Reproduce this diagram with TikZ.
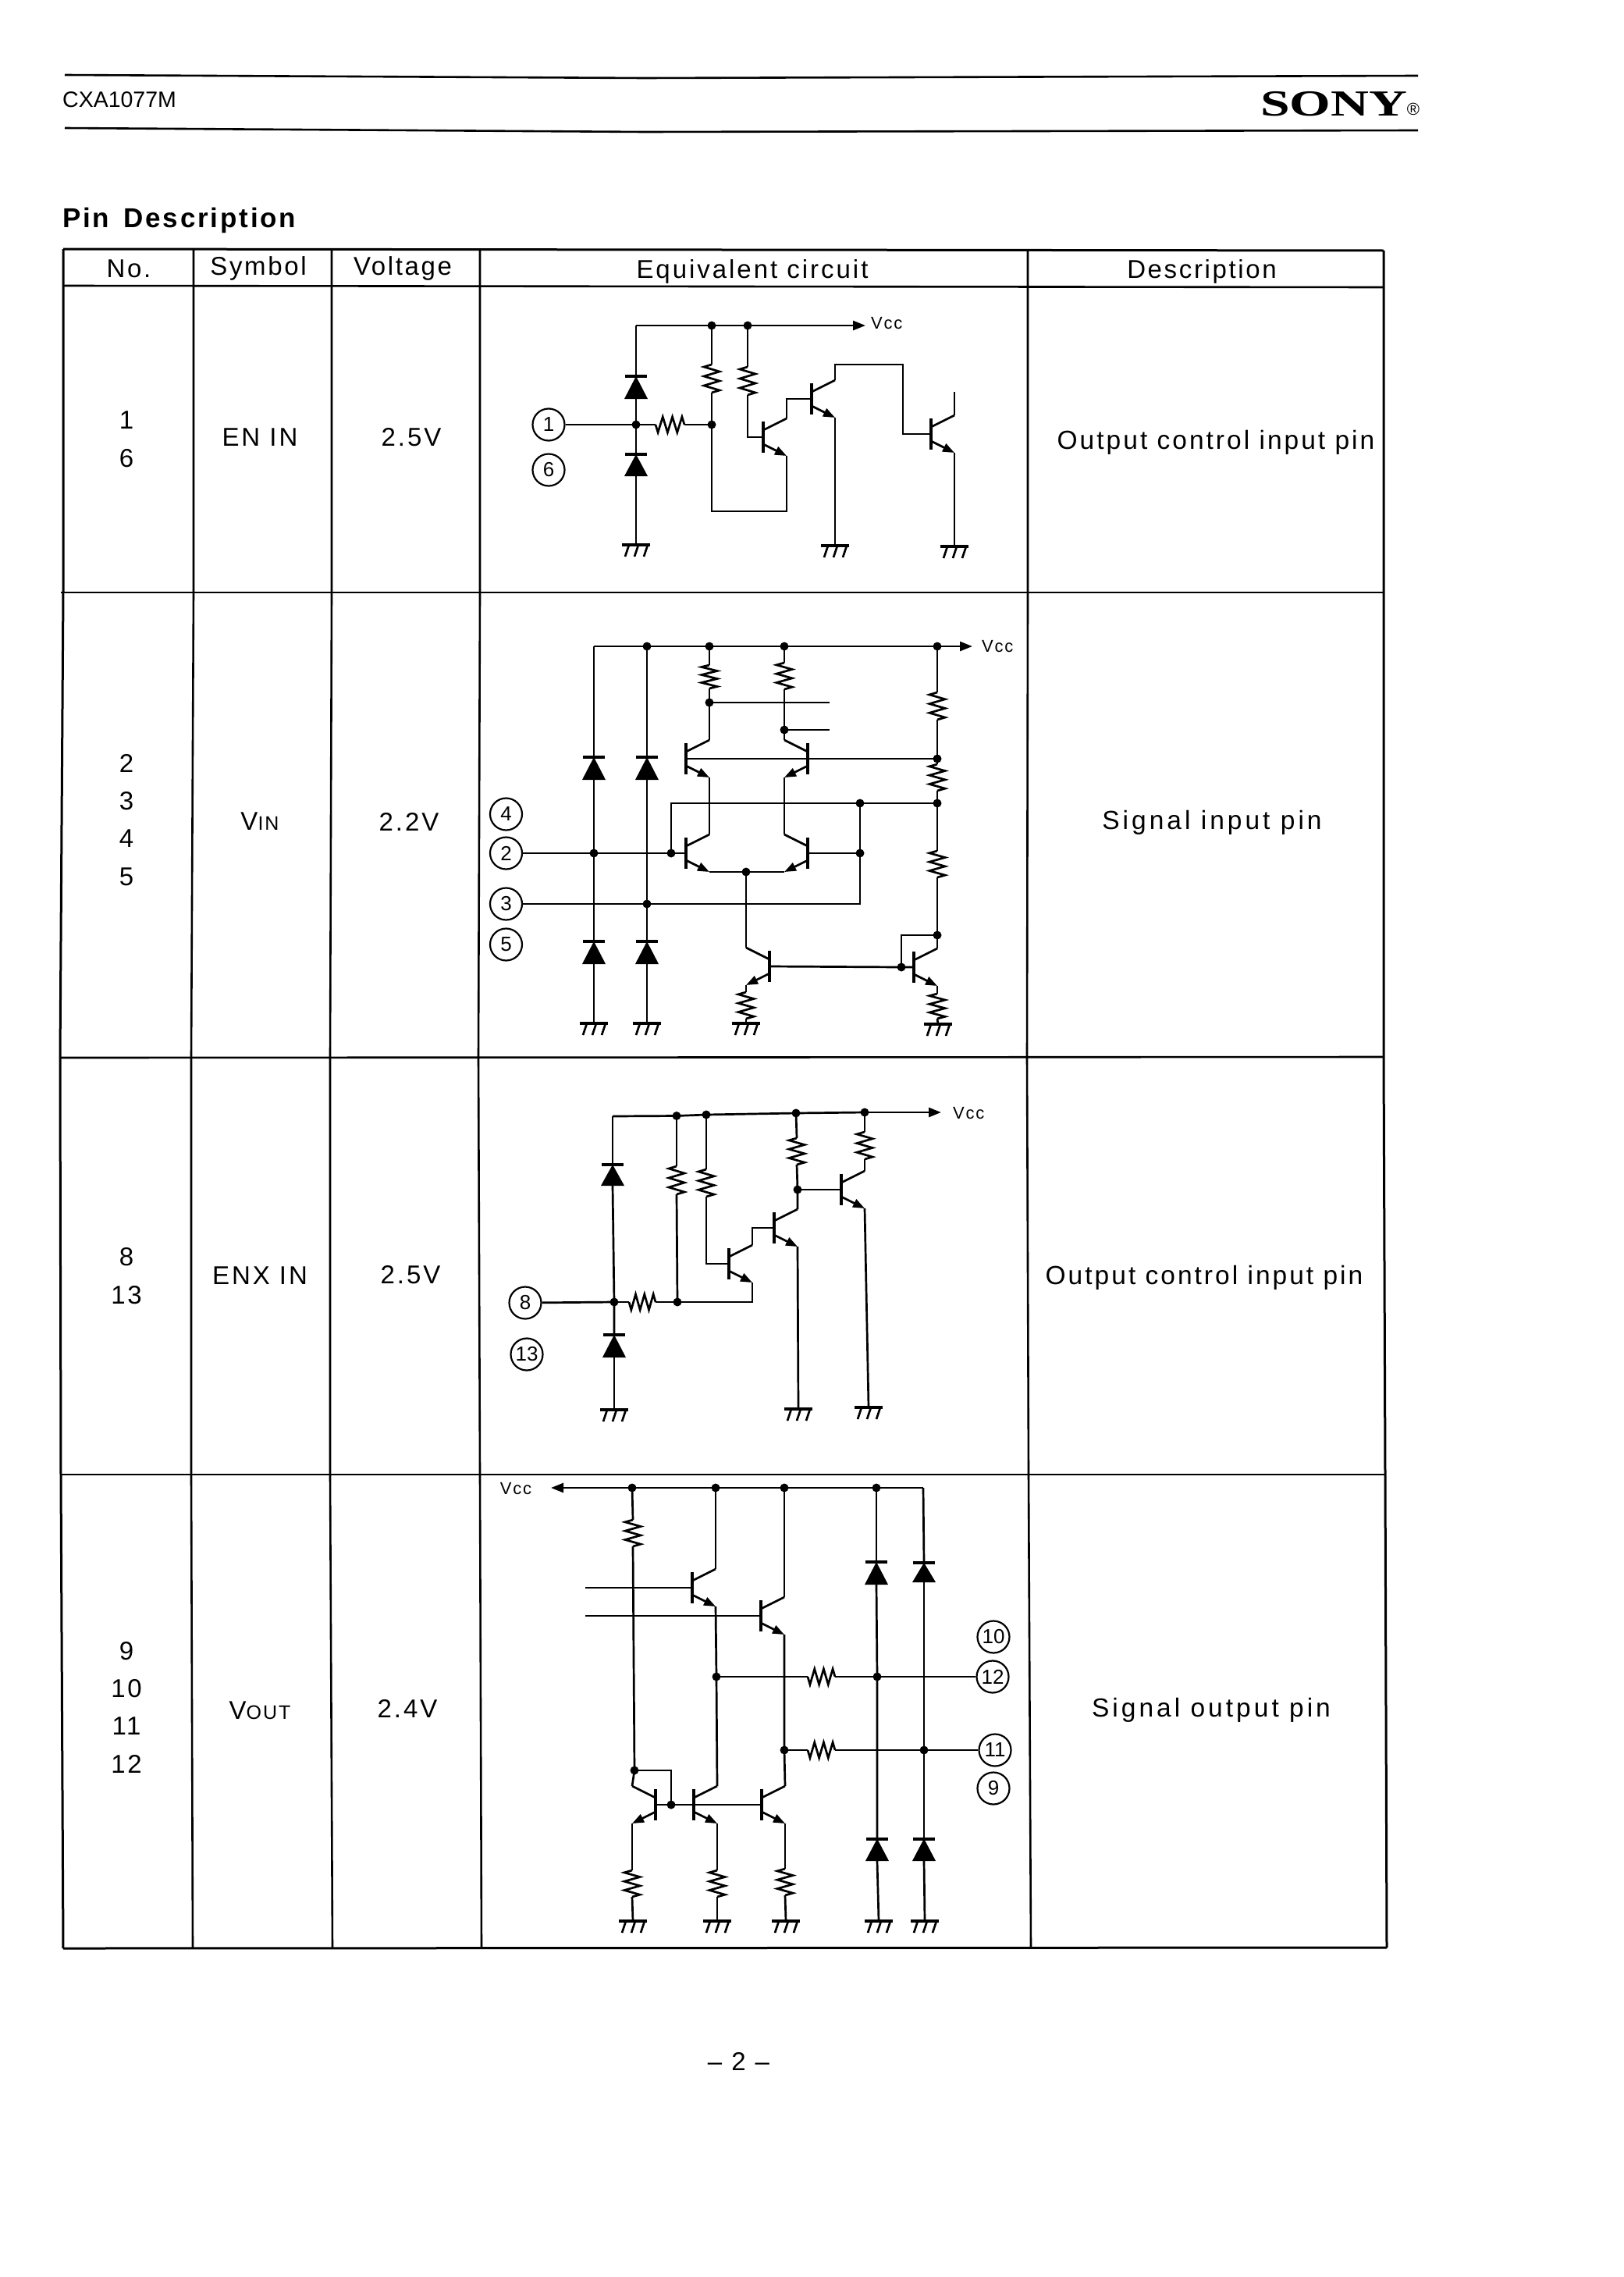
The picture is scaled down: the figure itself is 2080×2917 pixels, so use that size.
\documentclass[tikz,border=0pt]{standalone}
\usepackage{fontspec}
\setmainfont{Liberation Sans}[LetterSpace=8]
\newfontfamily\plainsans{Liberation Sans}
\newfontfamily\sonyfont{Liberation Serif}
\usetikzlibrary{arrows.meta}
\tikzset{
  wire/.style={line width=2.7pt,line join=miter},
  rule/.style={line width=2.6pt},
  vcc/.style={-{Triangle[length=16pt,width=12pt]}},
  txt/.style={anchor=base,inner sep=0pt,font=\fontsize{33}{36}\selectfont},
  desc/.style={anchor=base,inner sep=0pt,font=\fontsize{33.5}{36}\selectfont},
  vcclab/.style={inner sep=0pt,font=\fontsize{22}{24}\selectfont},
  pinc/.style={circle,draw,line width=2.2pt,minimum size=41pt,inner sep=0pt,font=\plainsans\fontsize{26}{28}\selectfont},
}
\newcommand{\Jn}[3]{\coordinate (#1) at (#2,#3);\fill (#1) circle (5.5pt);}
\newcommand{\Vres}[4]{%
  \pgfmathsetmacro\hh{(#4-#3)/6}%
  \coordinate (#1-a) at (#2,#3);\coordinate (#1-b) at (#2,#4);
  \draw[wire] (#1-a) -- ++(-10,0.5*\hh) -- ++(20,\hh) -- ++(-20,\hh) -- ++(20,\hh) -- ++(-20,\hh) -- ++(20,\hh) -- (#1-b);}
\newcommand{\Hres}[4]{%
  \pgfmathsetmacro\hh{(#3-#2)/6}%
  \coordinate (#1-a) at (#2,#4);\coordinate (#1-b) at (#3,#4);
  \draw[wire] (#1-a) -- ++(0.5*\hh,10) -- ++(\hh,-20) -- ++(\hh,20) -- ++(\hh,-20) -- ++(\hh,20) -- ++(\hh,-20) -- (#1-b);}
\newcommand{\Dio}[4]{%
  \coordinate (#1-a) at (#2,#3);\coordinate (#1-b) at (#2,#4);
  \draw[line width=4pt] ({#2-14},#3) -- ({#2+14},#3);
  \fill ({#2-15},#4) -- ({#2+15},#4) -- (#2,#3) -- cycle;}
\newcommand{\Gnd}[3]{%
  \coordinate (#1) at (#2,#3);
  \draw[line width=4.5pt] ({#2-18},#3) -- ({#2+18},#3);
  \draw[wire] ({#2-9},#3) -- ({#2-14},{#3+15}) ({#2+3},#3) -- ({#2-2},{#3+15}) ({#2+15},#3) -- ({#2+10},{#3+15});}
\newcommand{\Pin}[4]{\node[pinc] (#1) at (#2,#3) {#4};}
\newcommand{\Npn}[4]{%
  \coordinate (#1-b) at (#2,#3);
  \coordinate (#1-c) at ({#2+#4*30},{#3-24});
  \coordinate (#1-e) at ({#2+#4*30},{#3+24});
  \draw[line width=4.5pt] (#2,{#3-20}) -- (#2,{#3+20});
  \draw[wire] (#2,{#3-9}) -- (#1-c);
  \draw[wire,-{Triangle[length=15pt,width=11pt]}] (#2,{#3+9}) -- (#1-e);}
\newcommand{\W}[1]{\draw[wire] #1;}
\begin{document}
\begin{tikzpicture}[x=1pt,y=-1pt]
\useasboundingbox (0,0) rectangle (2080,2917);
% ---- page header
\coordinate (h1) at (83,96); \coordinate (h1m) at (825,100); \coordinate (h2) at (1817,97);
\coordinate (h3) at (83,164); \coordinate (h3m) at (825,169); \coordinate (h4) at (1817,167);
\draw[rule] (h1) -- (h1m) -- (h2);
\draw[rule] (h3) -- (h3m) -- (h4);
\node[anchor=base west,inner sep=0pt,font=\plainsans\fontsize{28.5}{30}\selectfont] (model) at (80,138) {CXA1077M};
\node[anchor=base,inner sep=0pt] (sony) at (1709,148) {\sonyfont\bfseries\fontsize{47}{50}\selectfont\scalebox{1.44}[1]{SONY}};
\node[anchor=base,inner sep=0pt,font=\plainsans\fontsize{22}{24}\selectfont] (reg) at (1811,147) {®};
\node[anchor=base west,inner sep=0pt,font=\bfseries\fontsize{35}{38}\selectfont] (title) at (80,291) {Pin \,Description};
% ---- table frame
\draw[line width=3pt] (81,319) -- (1773,321);
\draw[rule] (81,366) -- (1773,368);
\draw[rule] (78,759) -- (1773,759);
\draw[rule] (78,1355) -- (1773,1354);
\draw[rule] (78,1889) -- (1775,1889);
\draw[line width=3pt] (81,2496) -- (1777,2495);
\draw[line width=3pt] (81,319) -- (81,759) -- (77,1355) -- (78,1889) -- (81,2496);
\draw[rule] (248,319) -- (248,759) -- (245,1355) -- (245,1889) -- (247,2496);
\draw[rule] (425,319) -- (425,759) -- (423,1355) -- (423,1889) -- (426,2496);
\draw[rule] (615,319) -- (615,759) -- (613,1355) -- (615,1889) -- (617,2496);
\draw[rule] (1317,320) -- (1317,759) -- (1316,1355) -- (1318,1889) -- (1321,2496);
\draw[line width=3pt] (1773,321) -- (1773,1354) -- (1775,1889) -- (1777,2495);
% ---- table text
\node[txt] (hno) at (165,355) {No.};
\node[txt] (hsym) at (331,352) {Symbol};
\node[txt] (hvol) at (516,352) {Voltage};
\node[txt] (heq) at (964,356) {\addfontfeature{LetterSpace=9}Equivalent circuit};
\node[txt] (hdes) at (1540,356) {Description};
\node[txt] (n1) at (162,549) {1};
\node[txt] (n6) at (162,598) {6};
\node[txt] (s1) at (333,571) {\addfontfeature{LetterSpace=9}EN IN};
\node[txt] (v1) at (527,571) {\addfontfeature{LetterSpace=9}2.5V};
\node[desc] (d1) at (1558,575) {\addfontfeature{LetterSpace=9}Output control input pin};
\node[txt] (n2) at (162,989) {2};
\node[txt] (n3) at (162,1037) {3};
\node[txt] (n4) at (162,1085) {4};
\node[txt] (n5) at (162,1134) {5};
\node[txt] (s2) at (333,1063) {V{\fontsize{25}{26}\selectfont IN}};
\node[txt] (v2) at (524,1064) {\addfontfeature{LetterSpace=9}2.2V};
\node[desc] (d2) at (1553,1062) {\addfontfeature{LetterSpace=12}Signal input pin};
\node[txt] (n8) at (162,1621) {8};
\node[txt] (n13) at (162,1670) {13};
\node[txt] (s3) at (333,1645) {\addfontfeature{LetterSpace=9}ENX IN};
\node[txt] (v3) at (526,1644) {\addfontfeature{LetterSpace=9}2.5V};
\node[desc] (d3) at (1543,1645) {\addfontfeature{LetterSpace=9}Output control input pin};
\node[txt] (n9) at (162,2126) {9};
\node[txt] (n10) at (162,2174) {10};
\node[txt] (n11) at (162,2222) {11};
\node[txt] (n12) at (162,2271) {12};
\node[txt] (s4) at (333,2202) {V{\fontsize{25}{26}\selectfont OUT}};
\node[txt] (v4) at (522,2200) {\addfontfeature{LetterSpace=9}2.4V};
\node[desc] (d4) at (1552,2199) {\addfontfeature{LetterSpace=12}Signal output pin};
\node[txt,font=\plainsans\fontsize{33}{36}\selectfont] (pg) at (946.5,2652) {–\hspace{12pt}2\hspace{12pt}–};
% ---- circuit 1
\coordinate (a0) at (815,417); \coordinate (a5) at (1109,417);
\Jn{a1}{912}{417} \Jn{a2}{958}{417} \Jn{a3}{815}{544} \Jn{a4}{912}{544}
\W{(a0) -- (a1) -- (a2)}
\draw[wire,vcc] (a2) -- (a5);
\node[vcclab,anchor=west] (avcc) at (1116,414) {Vcc};
\Dio{ad1}{815}{482}{511} \Dio{ad2}{815}{582}{610} \Gnd{ag1}{815}{698}
\W{(a0) -- (ad1-a)} \W{(ad1-b) -- (a3) -- (ad2-a)} \W{(ad2-b) -- (ag1)}
\Pin{p1}{703}{544}{1} \Pin{p6}{703}{602}{6}
\W{(p1) -- (a3)}
\Hres{ar0}{840}{877}{544}
\W{(a3) -- (ar0-a)} \W{(ar0-b) -- (a4)}
\Vres{ar1}{912}{467}{503} \Vres{ar2}{958}{470}{506}
\W{(a1) -- (ar1-a)} \W{(ar1-b) -- (a4)} \W{(a2) -- (ar2-a)}
\Npn{at1}{978}{560}{1} \Npn{at2}{1040}{511}{1} \Npn{at3}{1193}{556}{1}
\coordinate (ac) at (912,655);
\W{(a4) -- (ac) -| (at1-e)}
\W{(ar2-b) |- (at1-b)}
\W{(at1-c) |- (at2-b)}
\coordinate (ad) at (1157,467);
\W{(at2-c) |- (ad) |- (at3-b)}
\Gnd{ag2}{1070}{699} \Gnd{ag3}{1223}{700}
\W{(at2-e) -- (ag2)} \W{(at3-e) -- (ag3)}
\coordinate (ae) at (1223,502);
\W{(at3-c) -- (ae)}
% ---- circuit 2
\coordinate (b0) at (761,828); \coordinate (b5) at (1246,828);
\Jn{b1}{829}{828} \Jn{b2}{909}{828} \Jn{b3}{1005}{828} \Jn{b4}{1201}{828}
\W{(b0) -- (b1) -- (b2) -- (b3) -- (b4)}
\draw[wire,vcc] (b4) -- (b5);
\node[vcclab,anchor=west] (bvcc) at (1258,828) {Vcc};
\Dio{bd1}{761}{970}{999} \Dio{bd2}{829}{970}{999} \Dio{bd3}{761}{1206}{1235} \Dio{bd4}{829}{1206}{1235}
\Jn{b6}{761}{1093} \Jn{b7}{829}{1158} \Jn{b8}{860}{1093}
\Gnd{bg1}{761}{1311} \Gnd{bg2}{829}{1311}
\Pin{p4}{648.5}{1043}{4} \Pin{p2}{648.5}{1093}{2} \Pin{p3}{648.5}{1158}{3} \Pin{p5}{648.5}{1210}{5}
\W{(b0) -- (bd1-a)} \W{(bd1-b) -- (b6) -- (bd3-a)} \W{(bd3-b) -- (bg1)}
\W{(b1) -- (bd2-a)} \W{(bd2-b) -- (b7) -- (bd4-a)} \W{(bd4-b) -- (bg2)}
\Npn{bt1}{879}{972}{1} \Npn{bt2}{1035}{972}{-1} \Npn{bt3}{879}{1093}{1} \Npn{bt4}{1035}{1093}{-1}
\Npn{bt5}{986}{1238}{-1} \Npn{bt6}{1171}{1239}{1}
\W{(p2) -- (b6) -- (b8) -- (bt3-b)}
\Vres{br1}{909}{852}{882} \Vres{br2}{1005}{849}{883}
\Jn{b9}{909}{900} \Jn{b11}{1005}{935}
\coordinate (b10) at (1063,900); \coordinate (b12) at (1063,935);
\W{(b2) -- (br1-a)} \W{(br1-b) -- (b9) -- (bt1-c)} \W{(b9) -- (b10)} \W{(bt1-e) -- (bt3-c)}
\W{(b3) -- (br2-a)} \W{(br2-b) -- (b11) -- (bt2-c)} \W{(b11) -- (b12)} \W{(bt2-e) -- (bt4-c)}
\Jn{b14}{956}{1117}
\W{(bt3-e) -- (b14) -- (bt4-e)}
\Jn{b13}{1201}{972} \Jn{b15}{1201}{1029} \Jn{b16}{1201}{1198} \Jn{b17}{1102}{1029} \Jn{b19}{1102}{1093}
\Vres{br3}{1201}{887}{922} \Vres{br4}{1201}{979}{1013} \Vres{br5}{1201}{1090}{1124}
\W{(bt1-b) -- (b13)}
\W{(b4) -- (br3-a)} \W{(br3-b) -- (b13) -- (br4-a)} \W{(br4-b) -- (b15) -- (br5-a)} \W{(br5-b) -- (b16) -- (bt6-c)}
\coordinate (b18) at (860,1029); \coordinate (b20) at (1102,1158);
\W{(b8) -- (b18) -- (b17) -- (b15)}
\W{(b17) -- (b19) -- (b20) -- (b7) -- (p3)}
\W{(bt4-b) -- (b19)}
\W{(b14) -- (bt5-c)}
\Jn{b21}{1155}{1239}
\W{(bt5-b) -- (b21) -- (bt6-b)}
\W{(b21) |- (b16)}
\Vres{br6}{956}{1271}{1305} \Vres{br7}{1201}{1273}{1305}
\Gnd{bg3}{956}{1311} \Gnd{bg4}{1202}{1312}
\W{(bt5-e) -- (br6-a)} \W{(br6-b) -- (bg3)} \W{(bt6-e) -- (br7-a)} \W{(br7-b) -- (bg4)}
% ---- circuit 3
\coordinate (c0) at (785,1430); \coordinate (c5) at (1206,1425);
\Jn{c1}{867}{1429.5} \Jn{c2}{905}{1428} \Jn{c3}{1020}{1426} \Jn{c4}{1108}{1425}
\W{(c0) -- (c1) -- (c2) -- (c3) -- (c4)}
\draw[wire,vcc] (c4) -- (c5);
\node[vcclab,anchor=west] (cvcc) at (1221,1426) {Vcc};
\Dio{cd1}{785}{1492}{1519} \Dio{cd2}{787}{1710}{1739}
\Jn{c6}{787}{1668} \Gnd{cg1}{787}{1806}
\W{(c0) -- (cd1-a)} \W{(cd1-b) -- (c6) -- (cd2-a)} \W{(cd2-b) -- (cg1)}
\Pin{p8}{673}{1669}{8} \Pin{p13}{675}{1735}{13}
\W{(p8) -- (c6)}
\Hres{cr0}{806}{840}{1668}
\Jn{c7}{868}{1668}
\W{(c6) -- (cr0-a)} \W{(cr0-b) -- (c7)}
\Vres{cr1}{867}{1494}{1530} \Vres{cr2}{905}{1498}{1533}
\W{(c1) -- (cr1-a)} \W{(cr1-b) -- (c7)} \W{(c2) -- (cr2-a)}
\Npn{ct1}{934}{1619}{1} \Npn{ct2}{992}{1573}{1} \Npn{ct3}{1078}{1524}{1}
\W{(c7) -| (ct1-e)}
\W{(cr2-b) |- (ct1-b)}
\W{(ct1-c) |- (ct2-b)}
\Jn{c9}{1022}{1524}
\Vres{cr3}{1021}{1458}{1492} \Vres{cr4}{1108}{1450}{1485}
\W{(c3) -- (cr3-a)} \W{(cr3-b) -- (c9) -- (ct2-c)} \W{(c9) -- (ct3-b)}
\W{(c4) -- (cr4-a)} \W{(cr4-b) -- (ct3-c)}
\Gnd{cg2}{1023}{1805} \Gnd{cg3}{1113}{1803}
\W{(ct2-e) -- (cg2)} \W{(ct3-e) -- (cg3)}
% ---- circuit 4
\coordinate (d0) at (706,1906); \coordinate (d5) at (1183,1906);
\Jn{d1}{810}{1906} \Jn{d2}{917}{1906} \Jn{d3}{1005}{1906} \Jn{d4}{1123}{1906}
\draw[wire,vcc] (d1) -- (d0);
\W{(d1) -- (d2) -- (d3) -- (d4) -- (d5)}
\node[vcclab,anchor=center] (dvcc) at (661,1907) {Vcc};
\Vres{dr1}{811}{1947}{1981}
\Jn{d6}{813}{2268}
\W{(d1) -- (dr1-a)} \W{(dr1-b) -- (d6)}
\Npn{dt1}{840}{2312}{-1} \Npn{dt2}{889}{2312}{1} \Npn{dt3}{976}{2312}{1}
\Npn{dt4}{887}{2034}{1} \Npn{dt5}{975}{2070}{1}
\Jn{d8}{860}{2312}
\coordinate (d7) at (860,2268);
\W{(d6) -- (dt1-c)} \W{(d6) -- (d7) -- (d8)}
\W{(dt1-b) -- (d8) -- (dt2-b) -- (dt3-b)}
\Jn{d9}{918}{2148} \Jn{d10}{1005}{2242}
\W{(d2) -- (dt4-c)} \W{(dt4-e) -- (d9) -- (dt2-c)}
\W{(d3) -- (dt5-c)} \W{(dt5-e) -- (d10) -- (dt3-c)}
\coordinate (d11) at (750,2034); \coordinate (d12) at (750,2070);
\W{(d11) -- (dt4-b)} \W{(d12) -- (dt5-b)}
\Hres{dr2}{1035}{1070}{2148} \Hres{dr3}{1035}{1070}{2242}
\Jn{d13}{1124}{2148} \Jn{d14}{1184}{2242}
\Pin{p10}{1273}{2097}{10} \Pin{p12}{1272}{2148}{12} \Pin{p11}{1275}{2242}{11} \Pin{p9}{1273}{2291}{9}
\W{(d9) -- (dr2-a)} \W{(dr2-b) -- (d13) -- (p12)}
\W{(d10) -- (dr3-a)} \W{(dr3-b) -- (d14) -- (p11)}
\Dio{dd1}{1123}{2001}{2030} \Dio{dd2}{1184}{2002}{2027} \Dio{dd3}{1124}{2355.5}{2384} \Dio{dd4}{1184}{2355.5}{2384}
\Gnd{dg4}{1126}{2461} \Gnd{dg5}{1185}{2461}
\W{(d4) -- (dd1-a)} \W{(dd1-b) -- (d13) -- (dd3-a)} \W{(dd3-b) -- (dg4)}
\W{(d5) -- (dd2-a)} \W{(dd2-b) -- (d14) -- (dd4-a)} \W{(dd4-b) -- (dg5)}
\Vres{dr4}{810}{2396}{2430} \Vres{dr5}{919}{2396}{2430} \Vres{dr6}{1006}{2394}{2428}
\Gnd{dg1}{811}{2461} \Gnd{dg2}{919}{2461} \Gnd{dg3}{1007}{2461}
\W{(dt1-e) -- (dr4-a)} \W{(dr4-b) -- (dg1)}
\W{(dt2-e) -- (dr5-a)} \W{(dr5-b) -- (dg2)}
\W{(dt3-e) -- (dr6-a)} \W{(dr6-b) -- (dg3)}
\end{tikzpicture}
\end{document}
